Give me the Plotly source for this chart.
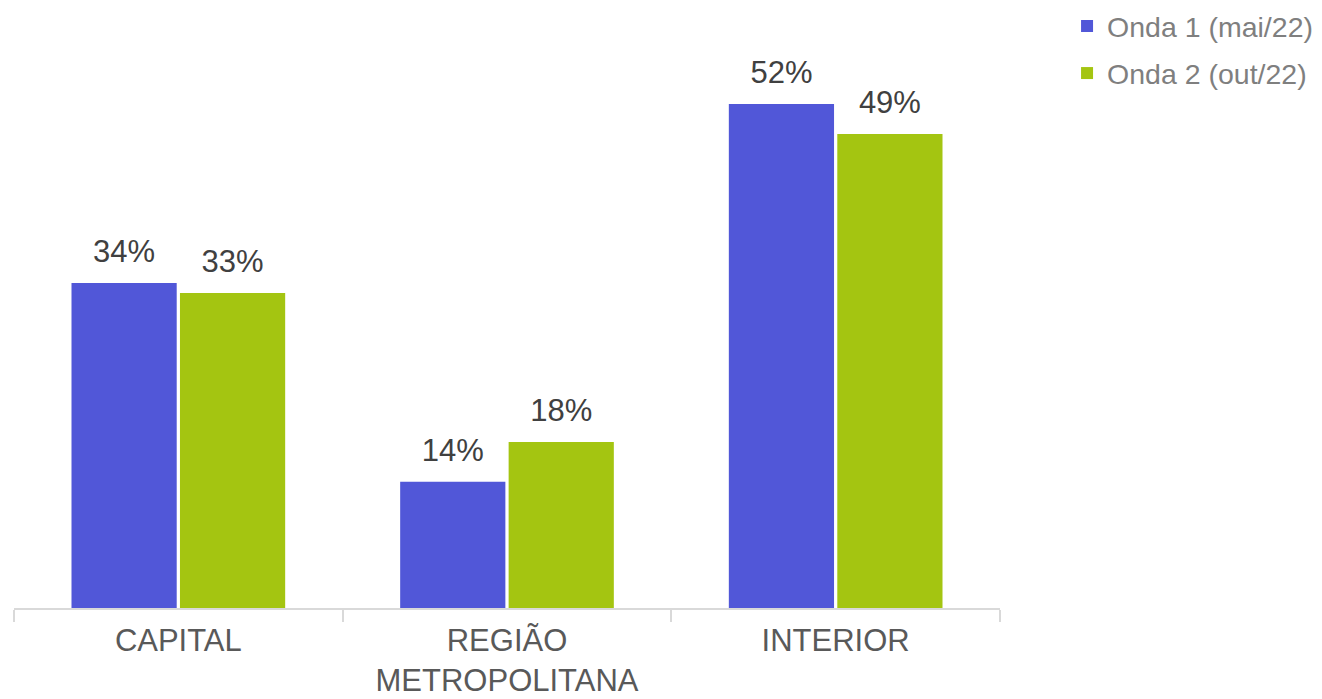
import plotly.graph_objects as go

categories = ["CAPITAL", "REGIÃO<br>METROPOLITANA", "INTERIOR"]
series_names = ["Onda 1 (mai/22)", "Onda 2 (out/22)"]
onda1 = [34, 14, 52]
onda2 = [33, 18, 49]
colors = ["#5157D8", "#A4C511"]

LABEL_PAD = 1.1  # visual spacing (axis units) between bar top and its label
FONT = "Liberation Sans, Arial, sans-serif"

fig = go.Figure()
for i, (name, vals, col) in enumerate(zip(series_names, [onda1, onda2], colors)):
    grp = f"g{i}"
    fig.add_trace(go.Bar(
        x=categories, y=vals, name=name, legendgroup=name, offsetgroup=grp,
        marker=dict(color=col, line=dict(width=0)),
        hovertemplate="%{y}%<extra>" + name + "</extra>",
    ))
    # transparent spacer carrying the data label a little above the bar
    fig.add_trace(go.Bar(
        x=categories, y=[LABEL_PAD] * len(vals), base=vals, offsetgroup=grp,
        marker=dict(color="rgba(0,0,0,0)", line=dict(width=0)),
        text=[f"{v}%" for v in vals], textposition="outside",
        textfont=dict(size=31, color="#404040", family=FONT),
        cliponaxis=False, showlegend=False, hoverinfo="skip",
    ))

fig.update_layout(
    width=1322, height=699,
    margin=dict(l=6, r=330, t=32, b=99, autoexpand=False),
    paper_bgcolor="white", plot_bgcolor="white",
    barmode="group", bargap=0.34, bargroupgap=0.03,
    font=dict(family=FONT, size=31, color="#595959"),
    showlegend=True,
    legend=dict(x=1.068, y=1.0687, xanchor="left", yanchor="top",
                font=dict(size=28.5, color="#7F7F7F", family=FONT), traceorder="grouped",
                tracegroupgap=7, itemwidth=30, bgcolor="rgba(0,0,0,0)"),
    xaxis=dict(showline=True, linecolor="#D9D9D9", linewidth=1.5,
               ticks="outside", tickson="boundaries", ticklen=12, tickcolor="#D9D9D9",
               tickwidth=1.5, ticklabelstandoff=4,
               tickfont=dict(size=31, color="#595959", family=FONT), showgrid=False),
    yaxis=dict(range=[1.31, 58.45], visible=False, showgrid=False, zeroline=False),
)
fig.write_html("out.html")
